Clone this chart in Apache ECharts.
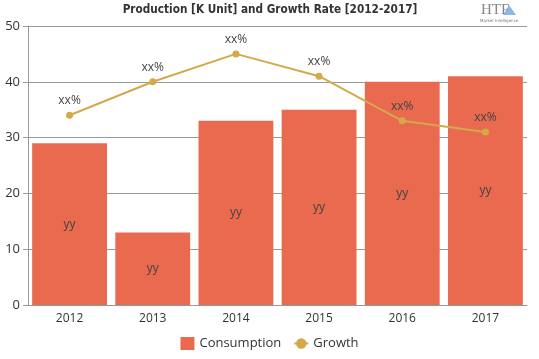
<!DOCTYPE html>
<html><head><meta charset="utf-8">
<script src="https://cdn.jsdelivr.net/npm/echarts@6/dist/echarts.min.js"></script>
<style>html,body{margin:0;padding:0;background:#fff}#c{width:539px;height:359px}</style>
</head><body><div id="c"></div>
<script>
const categories = ['2012','2013','2014','2015','2016','2017'];
const consumption = [29, 13, 33, 35, 40, 41];
const growth = [34, 40, 45, 41, 33, 31];
const yTicks = [0, 10, 20, 30, 40, 50];
const titleText = 'Production [K Unit] and Growth Rate [2012-2017]';

const chart = echarts.init(document.getElementById('c'), null, {renderer:'canvas'});
chart.setOption({
  animation: false,
  graphic: [
    {type:'group', x: 270, y: 3, scaleX: 0.81, children: [
      {type:'text', x: 0, y: 0,
       style:{text: titleText, fontFamily:'DejaVu Sans', fontWeight:'bold', fontSize:13, fill:'#333', align:'center'}}
    ]},
    {type:'text', x: 481, y: 3, style:{text:'HTF', fontFamily:'Liberation Serif', fontSize:15, fill:'#888'}},
    {type:'polygon', shape:{points:[[503,15],[509,5],[516,15]]}, style:{fill:'#6fa8d8', opacity:0.8}},
    {type:'text', x: 480, y: 19, style:{text:'Market Intelligence', fontFamily:'DejaVu Sans', fontSize:4, fill:'#777'}}
  ],
  legend: {
    bottom: 4, left: 'center', itemWidth: 14, itemHeight: 13, itemGap: 12,
    textStyle: {fontFamily: 'Open Sans', fontSize: 13, color: '#333'},
    data: [{name:'Consumption', icon:'rect'}, {name:'Growth'}]
  },
  grid: {left: 28, right: 12, top: 26, bottom: 54, containLabel: false},
  xAxis: {
    type: 'category', data: categories,
    axisLine: {lineStyle: {color: '#999'}},
    axisTick: {show: false},
    axisLabel: {fontFamily: 'Open Sans', fontSize: 12, color: '#333', margin: 8}
  },
  yAxis: {
    type: 'value', min: yTicks[0], max: yTicks[yTicks.length-1], interval: 10,
    axisLine: {show: true, lineStyle: {color: '#999'}},
    axisTick: {show: true, length: 5, lineStyle: {color: '#999'}},
    splitLine: {lineStyle: {color: '#999'}},
    axisLabel: {fontFamily: 'Open Sans', fontSize: 13, color: '#333', margin: 8}
  },
  series: [
    {
      name: 'Consumption', type: 'bar', data: consumption, barCategoryGap: '10%',
      itemStyle: {color: '#E96A4F'},
      label: {show: true, position: 'inside', formatter: 'yy', fontFamily: 'Open Sans', fontSize: 12, color: '#444'}
    },
    {
      name: 'Growth', type: 'line', data: growth, symbol: 'circle', symbolSize: 7,
      itemStyle: {color: '#D4A94A'}, lineStyle: {color: '#D4A94A', width: 2},
      label: {show: true, position: 'top', formatter: 'xx%', fontFamily: 'Open Sans', fontSize: 12, color: '#444', distance: 5}
    }
  ]
});
</script></body></html>
